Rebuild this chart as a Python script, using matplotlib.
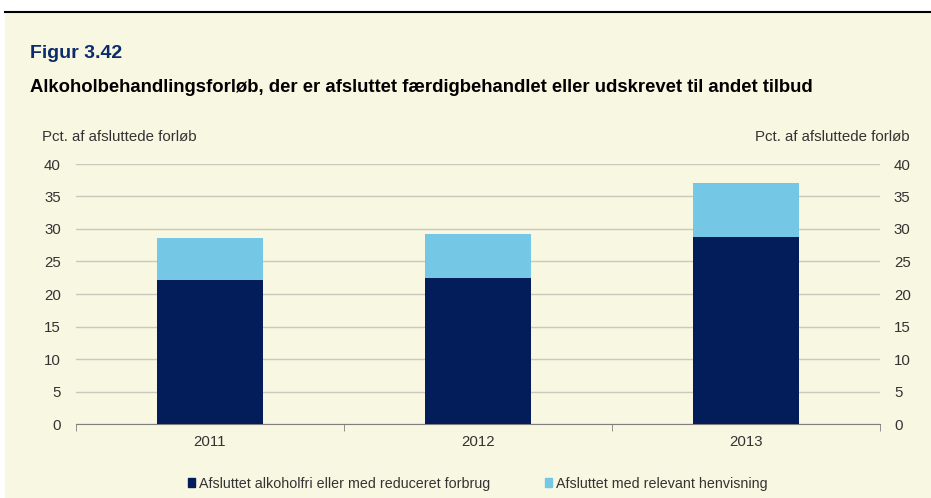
import matplotlib
matplotlib.use("Agg")
import matplotlib.pyplot as plt
from matplotlib.lines import Line2D
import numpy as np

years = ["2011", "2012", "2013"]
reduced_use = [22.1, 22.5, 28.8]
referral = [6.5, 6.8, 8.3]
series_names = ["Afsluttet alkoholfri eller med reduceret forbrug",
                "Afsluttet med relevant henvisning"]
y_ticks = [0, 5, 10, 15, 20, 25, 30, 35, 40]
axis_label = "Pct. af afsluttede forløb"

plt.rcParams['font.family'] = ['Liberation Sans', 'DejaVu Sans']

bg = "#F8F7E2"
navy = "#031C5A"
sky = "#74C8E6"
text_col = "#333333"

fig = plt.figure(figsize=(9.31, 4.98), dpi=100)
fig.patch.set_facecolor("white")

# cream panel below the top rule
panel = plt.Rectangle((5 / 931, 0), 1 - 5 / 931, 1 - 12 / 498,
                      transform=fig.transFigure, facecolor=bg,
                      edgecolor="none", zorder=-5)
fig.add_artist(panel)
fig.add_artist(Line2D([5 / 931, 1], [1 - 12 / 498, 1 - 12 / 498],
                      transform=fig.transFigure, color="black", lw=1.5))

fig.text(30 / 931, 1 - 53 / 498, "Figur 3.42", fontsize=14, fontweight="bold",
         color="#0B2C6B", va="center", ha="left")
fig.text(30 / 931, 1 - 88 / 498,
         "Alkoholbehandlingsforløb, der er afsluttet færdigbehandlet eller udskrevet til andet tilbud",
         fontsize=13.3, fontweight="bold", color="black", va="center", ha="left")

ax = fig.add_axes([76 / 931, 1 - 424 / 498, (880 - 76) / 931, (424 - 164) / 498])
ax.set_facecolor("none")
x = np.arange(len(years))
w = 0.395
ax.bar(x, reduced_use, width=w, color=navy, zorder=3)
ax.bar(x, referral, width=w, bottom=reduced_use, color=sky, zorder=3)

ax.set_xlim(-0.5, len(years) - 0.5)
ax.set_ylim(0, 40)
ax.set_yticks(y_ticks)
ax.yaxis.grid(True, color="#C9C8BE", lw=1, zorder=0)
ax.set_axisbelow(True)
for s in ["top", "right", "left"]:
    ax.spines[s].set_visible(False)
ax.spines["bottom"].set_color("#7F7F7F")
ax.tick_params(axis="y", length=0, pad=11, labelsize=10.8, labelcolor=text_col)

ax.set_xticks(x)
ax.set_xticklabels(years)
ax.tick_params(axis="x", length=0, pad=8, labelsize=10.8, labelcolor=text_col)
ax.set_xticks([-0.5, 0.5, 1.5, 2.5], minor=True)
ax.tick_params(axis="x", which="minor", length=5, color="#7F7F7F", direction="out")

ax2 = ax.twinx()
ax2.set_ylim(0, 40)
ax2.set_yticks(y_ticks)
for s in ["top", "right", "left", "bottom"]:
    ax2.spines[s].set_visible(False)
ax2.tick_params(axis="y", length=0, pad=10, labelsize=10.8, labelcolor=text_col)

fig.text(42 / 931, 1 - 137 / 498, axis_label, fontsize=10.8, color=text_col,
         ha="left", va="center")
fig.text(910 / 931, 1 - 137 / 498, axis_label, fontsize=10.8, color=text_col,
         ha="right", va="center")

handles = [plt.Rectangle((0, 0), 1, 1, color=navy),
           plt.Rectangle((0, 0), 1, 1, color=sky)]
fig.legend(handles, series_names, loc="center", bbox_to_anchor=(478 / 931, 1 - 484 / 498),
           ncol=2, frameon=False, fontsize=10.3, handlelength=0.5, handleheight=0.6,
           handletextpad=0.3, columnspacing=3.8, labelcolor=text_col)

fig.savefig("out.png", dpi=100, facecolor=fig.get_facecolor())
